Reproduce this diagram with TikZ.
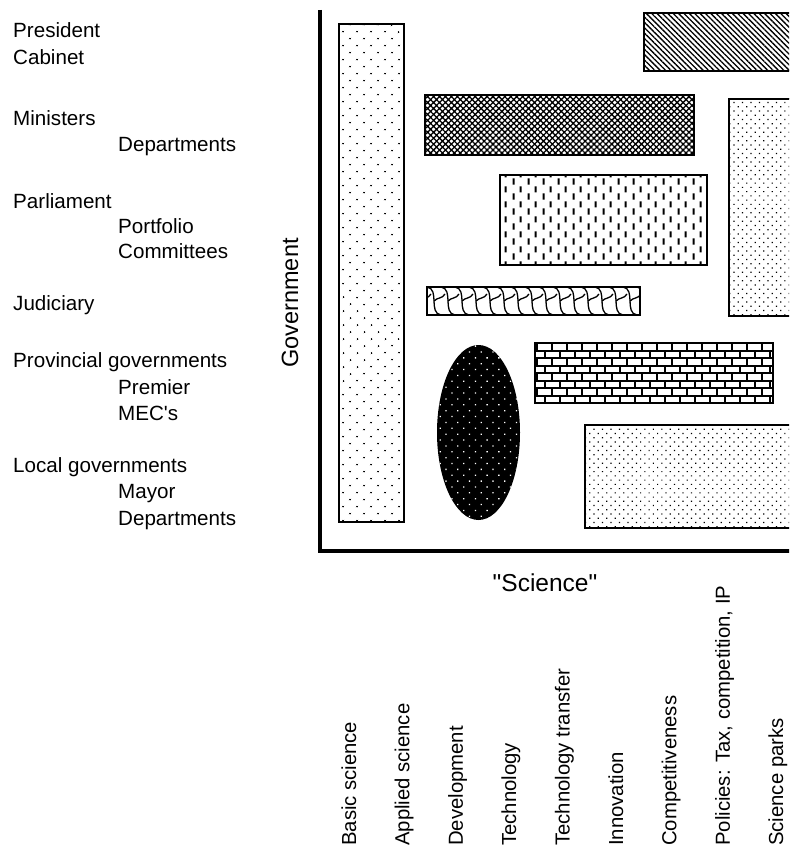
\documentclass[tikz,border=0pt]{standalone}
\usepackage{fontspec}
\newfontfamily\af{Liberation Sans}
\usetikzlibrary{patterns,patterns.meta}

\tikzdeclarepattern{
  name=vdashes,
  type=uncolored,
  bounding box={(0pt,0pt) and (15pt,15pt)},
  tile size={(15pt,15pt)},
  code={
    \pgfsetlinewidth{2.1pt}
    \pgfpathmoveto{\pgfpoint{3.75pt}{0.5pt}}\pgfpathlineto{\pgfpoint{3.75pt}{7pt}}
    \pgfpathmoveto{\pgfpoint{11.25pt}{8pt}}\pgfpathlineto{\pgfpoint{11.25pt}{14.5pt}}
    \pgfusepath{stroke}
  }
}

\tikzset{
  lbl/.style={anchor=base west, font=\af\fontsize{20.6}{24}\selectfont, inner sep=0pt},
  axlbl/.style={font=\af\fontsize{24.5}{29}\selectfont, inner sep=0pt},
  vlbl/.style={rotate=90, anchor=base west, font=\af\fontsize{20.3}{24}\selectfont, inner sep=0pt},
  box/.style={draw=black, line width=1.6pt},
  axisline/.style={line width=3.8pt, line join=miter},
}

\begin{document}
\begin{tikzpicture}[x=1pt,y=-1pt]
\useasboundingbox (0,0) rectangle (789,845);
\clip (0,0) rectangle (789,845);

% left labels
\node[lbl] (l1) at (13,37.5) {President};
\node[lbl] (l2) at (13,65) {Cabinet};
\node[lbl] (l3) at (13,126) {Ministers};
\node[lbl] (l4) at (118,152) {Departments};
\node[lbl] (l5) at (13,208) {Parliament};
\node[lbl] (l6) at (118,233) {Portfolio};
\node[lbl] (l7) at (118,258) {Committees};
\node[lbl] (l8) at (13,310) {Judiciary};
\node[lbl] (l9) at (13,367) {Provincial governments};
\node[lbl] (l10) at (118,394) {Premier};
\node[lbl] (l11) at (118,420) {MEC's};
\node[lbl] (l12) at (13,472) {Local governments};
\node[lbl] (l13) at (118,498) {Mayor};
\node[lbl] (l14) at (118,525) {Departments};

% axis labels
\node[font=\af\fontsize{23.5}{28}\selectfont, inner sep=0pt, rotate=90] (gov) at (290,303) {Government};
\node[axlbl] (sci) at (545,583) {"Science"};

% axes
\coordinate (ytop) at (320,10);
\coordinate (orig) at (320,551);
\coordinate (xend) at (800,551);
\draw[axisline] (ytop) -- (orig) -- (xend);

% shapes
\draw[box, pattern={Dots[distance=10.5pt, radius=1pt, angle=45]}] (339,24) rectangle (404,522);
\draw[box, pattern={Lines[angle=-45, distance=3.8pt, line width=1.3pt]}] (644,13) rectangle (800,71);
\draw[box, pattern={Hatch[angle=45, distance=4.2pt, line width=1.3pt]}] (425,95) rectangle (694,155);
\draw[box, pattern={Dots[distance=6pt, radius=0.85pt, angle=45]}] (729,99) rectangle (800,316);
\draw[box, pattern=vdashes] (500,175) rectangle (707,265);

% rope
\begin{scope}
\clip (427,287) rectangle (640,315);
\foreach \k in {0,...,17} {
  \pgfmathsetmacro{\xx}{413+14*\k}
  \draw[line width=1.3pt] (\xx,287) .. controls (\xx+13,289) and (\xx+1,313) .. (\xx+14,315);
  \draw[line width=1.3pt] (\xx+7,301) .. controls (\xx+11,297) and (\xx+15,299) .. (\xx+18,294);
}
\end{scope}
\draw[box] (427,287) rectangle (640,315);

% ellipse
\fill[black] (478.5,432.5) ellipse [x radius=41.5, y radius=87.5];
\fill[pattern={Dots[distance=8.3pt, radius=0.9pt, angle=45]}, pattern color=white] (478.5,432.5) ellipse [x radius=41.5, y radius=87.5];

% bricks
\begin{scope}
\clip (535,343) rectangle (773,403);
\foreach \r in {1,...,7} {
  \pgfmathsetmacro{\yy}{343+7.5*\r}
  \draw[line width=2pt] (535,\yy) -- (773,\yy);
}
\foreach \r in {0,...,7} {
  \pgfmathsetmacro{\ya}{343+7.5*\r}
  \pgfmathsetmacro{\off}{mod(\r,2)*7.5}
  \foreach \j in {0,...,16} {
    \pgfmathsetmacro{\xx}{537+\off+15*\j}
    \draw[line width=2pt] (\xx,\ya) -- (\xx,\ya+7.5);
  }
}
\end{scope}
\draw[box] (535,343) rectangle (773,403);

\draw[box, pattern={Dots[distance=6pt, radius=0.85pt, angle=45]}] (585,425) rectangle (800,528);

% bottom labels
\node[vlbl] (b1) at (356,846) {Basic science};
\node[vlbl] (b2) at (409.4,846) {Applied science};
\node[vlbl] (b3) at (462.8,846) {Development};
\node[vlbl] (b4) at (516.2,846) {Technology};
\node[vlbl] (b5) at (569.6,846) {Technology transfer};
\node[vlbl] (b6) at (623,846) {Innovation};
\node[vlbl] (b7) at (676.4,846) {Competitiveness};
\node[vlbl] (b8) at (729.8,846) {Policies: Tax, competition, IP};
\node[vlbl] (b9) at (783.2,846) {Science parks};
\end{tikzpicture}
\end{document}
